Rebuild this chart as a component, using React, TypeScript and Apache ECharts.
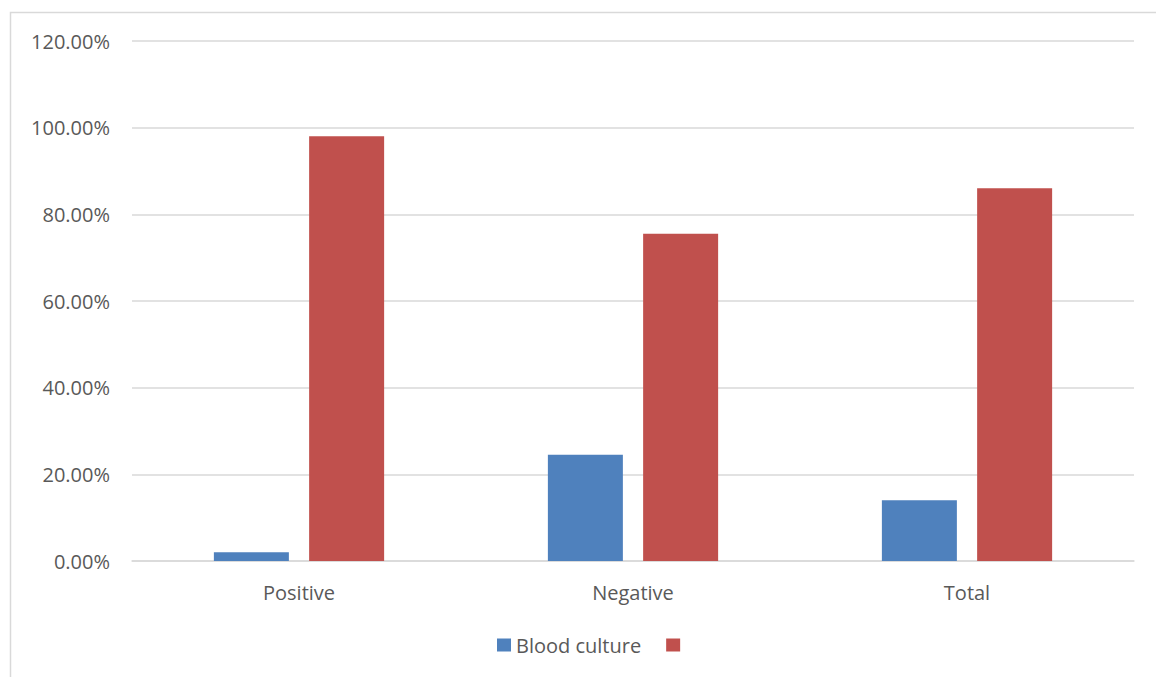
import React, { useEffect, useRef } from "react";
import * as echarts from "echarts";

// Categories and the two percentage series
const categories = ["Positive", "Negative", "Total"];
const bloodCulture = [2.0, 24.5, 14.0];
const otherSeries = [98.0, 75.5, 86.0];
const yTicks = { min: 0, max: 120, interval: 20 };

const FONT = "'Open Sans', 'Liberation Sans', sans-serif";
const TEXT = "#595959";
const GRID = "#d9d9d9";

export default function App() {
  const ref = useRef<HTMLDivElement>(null);

  useEffect(() => {
    if (!ref.current) return;
    const chart = echarts.init(ref.current, undefined, { renderer: "svg" });
    chart.setOption({
      animation: false,
      backgroundColor: "#ffffff",
      textStyle: { fontFamily: FONT },
      graphic: [
        {
          type: "rect",
          shape: { x: 10.5, y: 12.5, width: 1200, height: 720 },
          style: { fill: "none", stroke: GRID, lineWidth: 1.5 },
          silent: true,
        },
      ],
      grid: { left: 132, right: 22, top: 41, bottom: 116 },
      legend: {
        left: 492,
        top: 630,
        itemWidth: 14,
        itemHeight: 13,
        itemGap: 25,
        icon: "rect",
        textStyle: { color: TEXT, fontSize: 20, fontFamily: FONT },
        data: ["Blood culture", " "],
      },
      xAxis: {
        type: "category",
        data: categories,
        axisLine: { lineStyle: { color: GRID, width: 1.5 } },
        axisTick: { show: false },
        axisLabel: { color: TEXT, fontSize: 20, fontFamily: FONT, margin: 21 },
      },
      yAxis: {
        type: "value",
        min: yTicks.min,
        max: yTicks.max,
        interval: yTicks.interval,
        axisLine: { show: false },
        axisTick: { show: false },
        splitLine: { lineStyle: { color: GRID, width: 1.5 } },
        axisLabel: {
          color: TEXT,
          fontSize: 20,
          fontFamily: FONT,
          margin: 22,
          formatter: (v: number) => v.toFixed(2) + "%",
        },
      },
      series: [
        {
          name: "Blood culture",
          type: "bar",
          data: bloodCulture,
          barWidth: 75,
          barGap: "27%",
          itemStyle: { color: "#4f81bd" },
        },
        {
          name: " ",
          type: "bar",
          data: otherSeries,
          barWidth: 75,
          barGap: "27%",
          itemStyle: { color: "#c0504d" },
        },
      ],
    });
    return () => chart.dispose();
  }, []);

  return (
    <div
      ref={ref}
      style={{ position: "fixed", left: 0, top: 0, width: 1156, height: 677 }}
    />
  );
}
